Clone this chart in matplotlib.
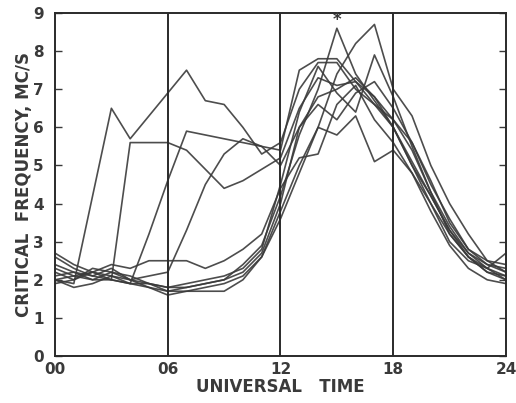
import numpy as np
import matplotlib
matplotlib.use("Agg")
from matplotlib import pyplot as plt

# Hourly critical frequency (Mc/s), one list per day, hours 00..24 UT
hours = list(range(25))
day_a = [2.0, 1.9, 4.2, 6.5, 5.7, 6.3, 6.9, 7.5, 6.7, 6.6, 6.0, 5.3, 5.6, 7.0, 7.7, 7.7, 7.0, 6.6, 6.0, 5.0, 4.2, 3.3, 2.7, 2.4, 2.3]
day_b = [2.1, 2.2, 2.0, 2.0, 5.6, 5.6, 5.6, 5.4, 4.9, 4.4, 4.6, 4.9, 5.2, 6.5, 7.3, 7.1, 7.2, 6.8, 6.2, 5.4, 4.3, 3.2, 2.6, 2.3, 2.1]
day_c = [2.3, 2.1, 2.2, 2.0, 1.9, 3.2, 4.6, 5.9, 5.8, 5.7, 5.6, 5.5, 5.4, 7.5, 7.8, 7.8, 7.2, 6.6, 6.2, 5.6, 4.5, 3.6, 2.8, 2.4, 2.2]
day_d = [2.4, 2.2, 2.1, 2.3, 2.0, 2.1, 2.2, 3.3, 4.5, 5.3, 5.7, 5.5, 5.0, 6.0, 6.8, 7.0, 7.3, 6.8, 6.0, 5.0, 4.0, 3.2, 2.6, 2.2, 2.0]
day_e = [2.0, 2.1, 2.0, 2.2, 2.1, 1.9, 1.8, 1.8, 1.9, 2.0, 2.4, 2.9, 4.2, 5.8, 7.0, 8.6, 7.4, 6.7, 6.0, 5.1, 4.2, 3.3, 2.6, 2.2, 2.1]
day_f = [2.6, 2.3, 2.1, 2.0, 1.9, 1.8, 1.7, 1.7, 1.8, 1.9, 2.1, 2.6, 3.8, 5.0, 6.0, 7.4, 8.2, 8.7, 7.0, 6.3, 5.0, 4.0, 3.2, 2.5, 2.2]
day_g = [1.9, 2.0, 2.3, 2.2, 2.0, 1.9, 1.8, 1.9, 2.0, 2.1, 2.3, 2.8, 4.5, 6.4, 7.6, 6.9, 6.4, 7.9, 6.8, 5.5, 4.3, 3.4, 2.7, 2.3, 2.0]
day_h = [2.0, 1.8, 1.9, 2.1, 2.0, 1.8, 1.6, 1.7, 1.7, 1.7, 2.0, 2.6, 3.6, 4.8, 6.0, 5.8, 6.3, 5.1, 5.4, 4.8, 3.8, 2.9, 2.3, 2.0, 1.9]
day_i = [2.7, 2.4, 2.2, 2.4, 2.3, 2.5, 2.5, 2.5, 2.3, 2.5, 2.8, 3.2, 4.4, 5.2, 5.3, 6.6, 7.1, 6.2, 5.6, 4.8, 4.0, 3.0, 2.5, 2.3, 2.7]
day_j = [2.2, 2.0, 2.2, 2.1, 1.9, 1.9, 1.7, 1.8, 1.9, 2.0, 2.2, 2.7, 4.0, 6.0, 6.6, 6.2, 6.9, 7.2, 6.5, 5.6, 4.6, 3.5, 2.8, 2.5, 2.4]
days = [day_a, day_b, day_c, day_d, day_e, day_f, day_g, day_h, day_i, day_j]

# hour of the marked maximum
star_hour = 15

x_ticks = [0, 6, 12, 18, 24]
x_labels = ["00", "06", "12", "18", "24"]
y_ticks = list(range(10))

ink = "#3a3a3a"
plt.rcParams['font.family'] = ['DejaVu Sans']

fig = plt.figure(figsize=(5.16, 4.03), dpi=100)
ax = fig.add_axes([0.1066, 0.1166, 0.8740, 0.8511])

for d in days:
    ax.plot(hours, d, color=ink, lw=1.2, alpha=0.9)

for h in x_ticks[1:-1]:
    ax.axvline(h, color="#2a2a2a", lw=1.4)

ax.text(star_hour, day_e[star_hour] + 0.22, "*", ha="center", va="center",
        fontsize=12, color=ink, fontweight="bold")

ax.set_xlim(0, 24)
ax.set_ylim(0, 9)
ax.set_xticks(x_ticks)
ax.set_xticklabels(x_labels)
ax.set_yticks(y_ticks)
ax.tick_params(axis="x", length=0, pad=4, labelsize=11, labelcolor=ink)
ax.tick_params(axis="y", direction="in", length=5, width=1.0, color=ink,
               right=True, pad=8, labelsize=11, labelcolor=ink)
for lab in ax.get_xticklabels() + ax.get_yticklabels():
    lab.set_fontweight("bold")
for s in ax.spines.values():
    s.set_color("#2a2a2a")
    s.set_linewidth(1.4)

ax.set_xlabel("UNIVERSAL   TIME", fontsize=12, fontweight="bold", color=ink, labelpad=1)
ax.set_ylabel("CRITICAL  FREQUENCY, MC/S", fontsize=12, fontweight="bold", color=ink, labelpad=0)

fig.savefig("out.png", dpi=100)
